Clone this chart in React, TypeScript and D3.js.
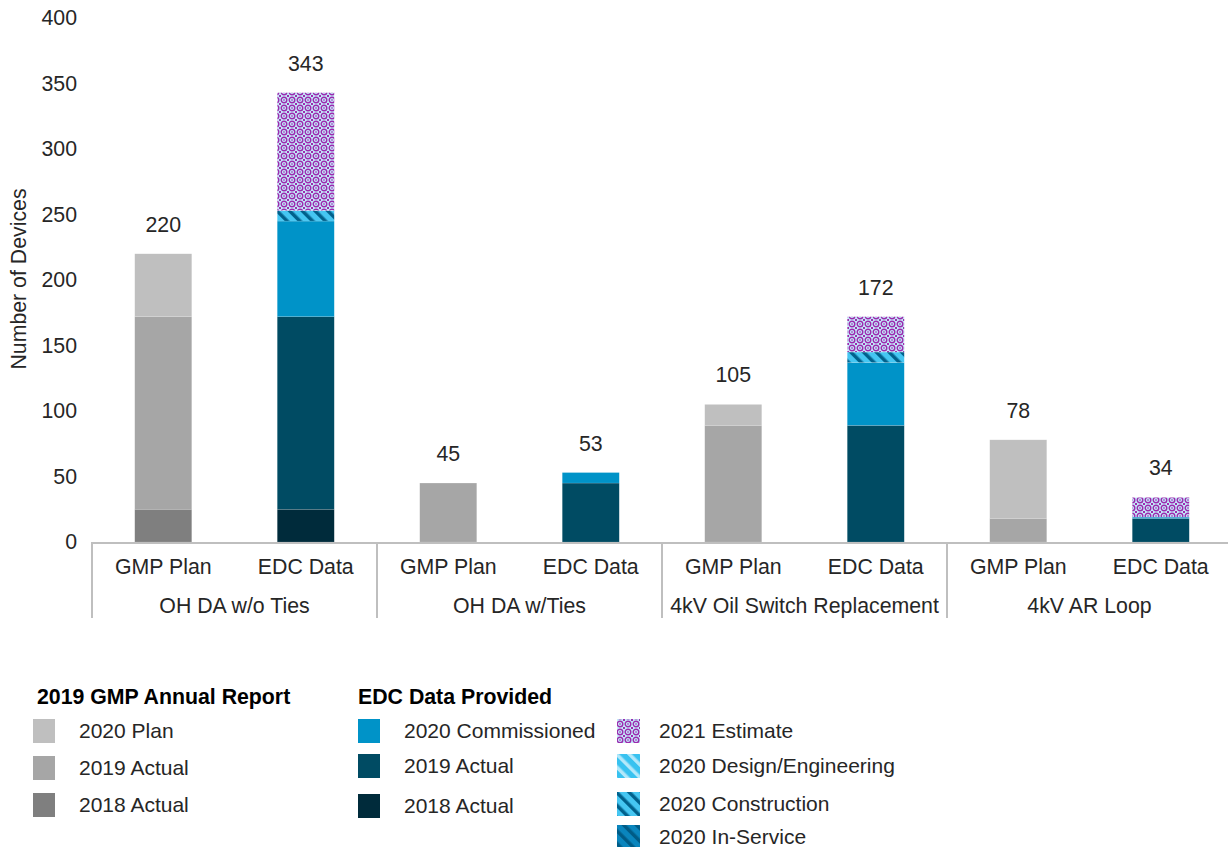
import React from "react";
import * as d3 from "d3";

// Categories
const groups = ["OH DA w/o Ties", "OH DA w/Ties", "4kV Oil Switch Replacement", "4kV AR Loop"];
const subCats = ["GMP Plan", "EDC Data"];

// 2019 GMP Annual Report series
const gmp2018Actual = [25, 0, 0, 0];
const gmp2019Actual = [147, 45, 89, 18];
const gmp2020Plan = [48, 0, 16, 60];

// EDC Data Provided series
const edc2018Actual = [25, 0, 0, 0];
const edc2019Actual = [147, 45, 89, 18];
const edc2020Commissioned = [73, 8, 48, 1];
const edc2020InService = [0, 0, 0, 0];
const edc2020Construction = [8, 0, 8, 0];
const edc2020Design = [0, 0, 0, 0];
const edc2021Estimate = [90, 0, 27, 15];

const yTicks = [0, 50, 100, 150, 200, 250, 300, 350, 400];

const W = 1228;
const H = 847;
const FONT = "'Liberation Sans', Arial, sans-serif";
const TEXT = "#262626";
const FS = 21.3;

type Series = { key: string; label: string; values: number[]; fill: string };

const gmpSeries: Series[] = [
  { key: "g2018", label: "2018 Actual", values: gmp2018Actual, fill: "#7f7f7f" },
  { key: "g2019", label: "2019 Actual", values: gmp2019Actual, fill: "#a6a6a6" },
  { key: "g2020", label: "2020 Plan", values: gmp2020Plan, fill: "#bfbfbf" },
];

const edcSeries: Series[] = [
  { key: "e2018", label: "2018 Actual", values: edc2018Actual, fill: "#002b3b" },
  { key: "e2019", label: "2019 Actual", values: edc2019Actual, fill: "#004b63" },
  { key: "e2020c", label: "2020 Commissioned", values: edc2020Commissioned, fill: "#0093c8" },
  { key: "e2020s", label: "2020 In-Service", values: edc2020InService, fill: "url(#pInService)" },
  { key: "e2020k", label: "2020 Construction", values: edc2020Construction, fill: "url(#pConstruction)" },
  { key: "e2020d", label: "2020 Design/Engineering", values: edc2020Design, fill: "url(#pDesign)" },
  { key: "e2021", label: "2021 Estimate", values: edc2021Estimate, fill: "url(#pEstimate)" },
];

function stackRows(series: Series[]) {
  const rows = groups.map((g, i) => {
    const r: Record<string, number | string> = { group: g };
    series.forEach((s) => (r[s.key] = s.values[i]));
    return r;
  });
  return d3.stack<any>().keys(series.map((s) => s.key))(rows);
}

export default function App() {
  const x0 = d3.scaleBand<string>().domain(groups).range([92, 1232]).padding(0);
  const x1 = d3
    .scaleBand<string>()
    .domain(subCats)
    .range([0, x0.bandwidth()])
    .paddingInner(0.6)
    .paddingOuter(0.3);
  const y = d3.scaleLinear().domain([0, 400]).range([542, 18]);

  const stacks = [
    { sub: subCats[0], series: gmpSeries, layers: stackRows(gmpSeries) },
    { sub: subCats[1], series: edcSeries, layers: stackRows(edcSeries) },
  ];

  const totals = (series: Series[]) =>
    groups.map((_, i) => d3.sum(series, (s) => s.values[i]));

  const gmpTotals = totals(gmpSeries);
  const edcTotals = totals(edcSeries);

  const legendLeft = [
    { label: "2020 Plan", fill: "#bfbfbf", cy: 731 },
    { label: "2019 Actual", fill: "#a6a6a6", cy: 768 },
    { label: "2018 Actual", fill: "#7f7f7f", cy: 805 },
  ];
  const legendMid = [
    { label: "2020 Commissioned", fill: "#0093c8", cy: 731 },
    { label: "2019 Actual", fill: "#004b63", cy: 766 },
    { label: "2018 Actual", fill: "#002b3b", cy: 806 },
  ];
  const legendRight = [
    { label: "2021 Estimate", fill: "url(#pEstimate)", cy: 731 },
    { label: "2020 Design/Engineering", fill: "url(#pDesign)", cy: 766 },
    { label: "2020 Construction", fill: "url(#pConstruction)", cy: 804 },
    { label: "2020 In-Service", fill: "url(#pInService)", cy: 837 },
  ];

  const axisEnd = 1228;

  return (
    <div style={{ position: "absolute", left: 0, top: 0 }}>
      <svg width={W} height={H} style={{ display: "block", background: "#fff" }} fontFamily={FONT}>
        <defs>
          <pattern id="pEstimate" width="8" height="8" patternUnits="userSpaceOnUse">
            <rect width="8" height="8" fill="#c3ebfb" />
            <circle cx="4" cy="4" r="2.8" fill="none" stroke="#9d2aae" strokeWidth="1.4" />
            <rect x="3.3" y="3.3" width="1.4" height="1.4" fill="#9d2aae" />
            <rect x="-1" y="-1" width="2" height="2" fill="#9d2aae" />
            <rect x="7" y="-1" width="2" height="2" fill="#9d2aae" />
            <rect x="-1" y="7" width="2" height="2" fill="#9d2aae" />
            <rect x="7" y="7" width="2" height="2" fill="#9d2aae" />
          </pattern>
          <pattern id="pConstruction" width="9" height="9" patternUnits="userSpaceOnUse" patternTransform="rotate(-45)">
            <rect width="9" height="9" fill="#45c6f2" />
            <rect width="3.5" height="9" fill="#00618c" />
          </pattern>
          <pattern id="pDesign" width="9" height="9" patternUnits="userSpaceOnUse" patternTransform="rotate(-45)">
            <rect width="9" height="9" fill="#38c2f0" />
            <rect width="3.5" height="9" fill="#b3e8fa" />
          </pattern>
          <pattern id="pInService" width="9" height="9" patternUnits="userSpaceOnUse" patternTransform="rotate(-45)">
            <rect width="9" height="9" fill="#0a85bd" />
            <rect width="3.5" height="9" fill="#005b86" />
          </pattern>
        </defs>

        {/* y axis ticks */}
        {yTicks.map((t) => (
          <text key={t} x={77} y={y(t)} dy="0.35em" textAnchor="end" fontSize={FS} fill={TEXT}>
            {t}
          </text>
        ))}
        <text
          transform={`translate(26,279) rotate(-90)`}
          textAnchor="middle"
          fontSize={FS}
          fill={TEXT}
        >
          Number of Devices
        </text>

        {/* stacked bars */}
        {stacks.map(({ sub, series, layers }) =>
          layers.map((layer, li) => (
            <g key={sub + layer.key} fill={series[li].fill}>
              {layer.map((d, gi) => {
                const h = y(d[0]) - y(d[1]);
                if (h <= 0) return null;
                return (
                  <rect
                    key={gi}
                    x={(x0(groups[gi]) as number) + (x1(sub) as number)}
                    y={y(d[1])}
                    width={x1.bandwidth()}
                    height={h}
                    stroke="rgba(255,255,255,0.25)"
                    strokeWidth={0.5}
                  />
                );
              })}
            </g>
          ))
        )}

        {/* totals above bars */}
        {groups.map((g, gi) => (
          <g key={"tot" + g}>
            <text
              x={(x0(g) as number) + (x1(subCats[0]) as number) + x1.bandwidth() / 2}
              y={y(gmpTotals[gi]) - 22}
              textAnchor="middle"
              fontSize={FS}
              fill={TEXT}
            >
              {gmpTotals[gi]}
            </text>
            <text
              x={(x0(g) as number) + (x1(subCats[1]) as number) + x1.bandwidth() / 2}
              y={y(edcTotals[gi]) - 22}
              textAnchor="middle"
              fontSize={FS}
              fill={TEXT}
            >
              {edcTotals[gi]}
            </text>
          </g>
        ))}

        {/* category axis */}
        <line x1={92} x2={axisEnd} y1={y(0) + 1} y2={y(0) + 1} stroke="#bfbfbf" strokeWidth={2} />
        {groups.map((g) => (
          <line
            key={"div" + g}
            x1={x0(g) as number}
            x2={x0(g) as number}
            y1={y(0)}
            y2={618}
            stroke="#bfbfbf"
            strokeWidth={2}
          />
        ))}
        {groups.map((g) =>
          subCats.map((s) => (
            <text
              key={g + s}
              x={(x0(g) as number) + (x1(s) as number) + x1.bandwidth() / 2}
              y={574}
              textAnchor="middle"
              fontSize={FS}
              fill={TEXT}
            >
              {s}
            </text>
          ))
        )}
        {groups.map((g) => (
          <text
            key={"gl" + g}
            x={(x0(g) as number) + x0.bandwidth() / 2}
            y={613}
            textAnchor="middle"
            fontSize={FS}
            fill={TEXT}
          >
            {g}
          </text>
        ))}

        {/* legend */}
        <text x={37} y={704} fontSize={21.3} fontWeight="bold" fill="#000">
          2019 GMP Annual Report
        </text>
        {legendLeft.map((l) => (
          <g key={"ll" + l.label}>
            <rect x={33} y={l.cy - 12} width={22} height={24} fill={l.fill} />
            <text x={79} y={l.cy} dy="0.35em" fontSize={21} fill={TEXT}>
              {l.label}
            </text>
          </g>
        ))}
        <text x={358} y={704} fontSize={21.3} fontWeight="bold" fill="#000">
          EDC Data Provided
        </text>
        {legendMid.map((l) => (
          <g key={"lm" + l.label}>
            <rect x={358} y={l.cy - 12} width={22} height={24} fill={l.fill} />
            <text x={404} y={l.cy} dy="0.35em" fontSize={21} fill={TEXT}>
              {l.label}
            </text>
          </g>
        ))}
        {legendRight.map((l) => (
          <g key={"lr" + l.label}>
            <rect x={617} y={l.cy - 12} width={23} height={24} fill={l.fill} />
            <text x={659} y={l.cy} dy="0.35em" fontSize={21} fill={TEXT}>
              {l.label}
            </text>
          </g>
        ))}
      </svg>
    </div>
  );
}
